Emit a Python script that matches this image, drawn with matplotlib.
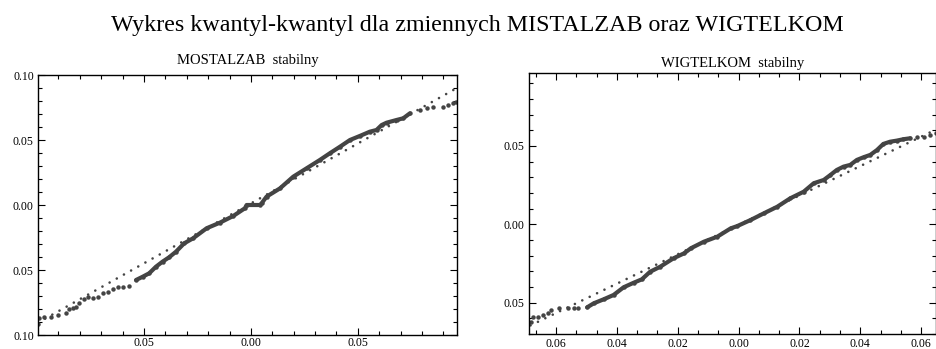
import matplotlib
matplotlib.use("Agg")
import matplotlib.pyplot as plt
from matplotlib.ticker import MultipleLocator, FuncFormatter

# MOSTALZAB - theoretical (stable) quantiles vs sample quantiles
most_theor = [-0.0994, -0.0989, -0.0966, -0.0935, -0.0903, -0.0864, -0.0849, -0.0833,
              -0.0818, -0.0802, -0.0779, -0.0763, -0.0740, -0.0716, -0.0693, -0.0670,
              -0.0646, -0.0623, -0.0600, -0.0569, -0.0537, -0.0506, -0.0475, -0.0444,
              -0.0413, -0.0382, -0.0350, -0.0312, -0.0270, -0.0207, -0.0145, -0.0083,
              -0.0028, -0.0020, 0.0042, 0.0050, 0.0073, 0.0136, 0.0198, 0.0260,
              0.0322, 0.0369, 0.0416, 0.0463, 0.0509, 0.0556, 0.0587, 0.0611,
              0.0634, 0.0681, 0.0712, 0.0743, 0.0790, 0.0821, 0.0852, 0.0899,
              0.0922, 0.0945, 0.0958]
most_sample = [-0.0915, -0.0872, -0.0864, -0.0859, -0.0846, -0.0828, -0.0802, -0.0795,
               -0.0787, -0.0752, -0.0725, -0.0710, -0.0718, -0.0705, -0.0679, -0.0667,
               -0.0648, -0.0633, -0.0628, -0.0623, -0.0577, -0.0552, -0.0525, -0.0475,
               -0.0436, -0.0402, -0.0359, -0.0295, -0.0256, -0.0179, -0.0136, -0.0085,
               -0.0025, 0.0000, 0.0000, 0.0013, 0.0064, 0.0128, 0.0218, 0.0282,
               0.0346, 0.0398, 0.0448, 0.0500, 0.0531, 0.0564, 0.0577, 0.0615,
               0.0633, 0.0654, 0.0667, 0.0705, 0.0731, 0.0744, 0.0752, 0.0756,
               0.0769, 0.0782, 0.0792]
most_ref_x = [-0.0995, 0.0963]
most_ref_y = [-0.0905, 0.0900]

# WIGTELKOM
wig_theor = [-0.0684, -0.0676, -0.0660, -0.0644, -0.0627, -0.0616, -0.0589, -0.0562,
             -0.0540, -0.0529, -0.0498, -0.0476, -0.0444, -0.0411, -0.0378, -0.0345,
             -0.0318, -0.0291, -0.0258, -0.0214, -0.0179, -0.0157, -0.0114, -0.0070,
             -0.0026, -0.0004, 0.0039, 0.0083, 0.0127, 0.0170, 0.0214, 0.0247,
             0.0280, 0.0302, 0.0323, 0.0345, 0.0367, 0.0389, 0.0411, 0.0433,
             0.0455, 0.0476, 0.0498, 0.0520, 0.0542, 0.0564, 0.0586, 0.0608,
             0.0630, 0.0649]
wig_sample = [-0.0622, -0.0590, -0.0590, -0.0579, -0.0568, -0.0547, -0.0536, -0.0536,
              -0.0536, -0.0536, -0.0530, -0.0504, -0.0479, -0.0451, -0.0402, -0.0373,
              -0.0351, -0.0303, -0.0271, -0.0217, -0.0185, -0.0153, -0.0111, -0.0079,
              -0.0026, -0.0011, 0.0027, 0.0070, 0.0112, 0.0166, 0.0208, 0.0262,
              0.0283, 0.0315, 0.0347, 0.0368, 0.0379, 0.0411, 0.0428, 0.0443,
              0.0474, 0.0513, 0.0527, 0.0534, 0.0543, 0.0549, 0.0559, 0.0559,
              0.0570, 0.0585]
wig_ref_x = [-0.0684, 0.0649]
wig_ref_y = [-0.0645, 0.0605]

plt.rcParams["font.family"] = ["Liberation Serif", "DejaVu Serif"]
dot_col = "#444444"

fig = plt.figure(figsize=(9.36, 3.49), dpi=100)
fig.suptitle("Wykres kwantyl-kwantyl dla zmiennych MISTALZAB oraz WIGTELKOM",
             fontsize=17.3, x=0.51, y=0.958)

ax1 = fig.add_axes([0.0406, 0.0401, 0.4476, 0.745])
ax2 = fig.add_axes([0.5652, 0.043, 0.4348, 0.748])

no_minus = FuncFormatter(lambda v, p: "%.2f" % abs(v))


def qq_panel(ax, tx, sy, rx, ry, body, title, tpad, xpad, xlim, ylim, xmaj, xmin):
    # reference line, made of round dots
    ax.plot(rx, ry, color=dot_col, lw=1.9, linestyle=(0, (0.01, 3.1)),
            dash_capstyle="round")
    # dense middle of the sample drawn as a thick band, tails as single dots
    ax.plot(tx[body[0]:body[1]], sy[body[0]:body[1]], color=dot_col, lw=3,
            solid_capstyle="round")
    ax.plot(tx, sy, "o", color=dot_col, ms=3.2, mew=0)
    ax.set_xlim(xlim)
    ax.set_ylim(ylim)
    ax.set_title(title, fontsize=10.5, pad=tpad)
    ax.xaxis.set_major_locator(MultipleLocator(xmaj))
    ax.xaxis.set_minor_locator(MultipleLocator(xmin))
    ax.yaxis.set_major_locator(MultipleLocator(0.05))
    ax.yaxis.set_minor_locator(MultipleLocator(0.01))
    ax.xaxis.set_major_formatter(no_minus)
    ax.yaxis.set_major_formatter(no_minus)
    ax.tick_params(which="both", direction="in", top=True, right=True,
                   labelsize=8.5, width=0.8)
    ax.tick_params(axis="y", pad=3)
    ax.tick_params(axis="x", pad=xpad)
    ax.tick_params(which="major", length=5)
    ax.tick_params(which="minor", length=3)
    for s in ax.spines.values():
        s.set_linewidth(1.0)


qq_panel(ax1, most_theor, most_sample, most_ref_x, most_ref_y, (20, 52),
         "MOSTALZAB  stabilny", 8, 1.5, (-0.0995, 0.0963), (-0.10, 0.10), 0.05, 0.01)
qq_panel(ax2, wig_theor, wig_sample, wig_ref_x, wig_ref_y, (10, 46),
         "WIGTELKOM  stabilny", 4, 3, (-0.0689, 0.0649), (-0.070, 0.0966), 0.02, 0.02 / 3)

fig.savefig("out.png", dpi=100)
